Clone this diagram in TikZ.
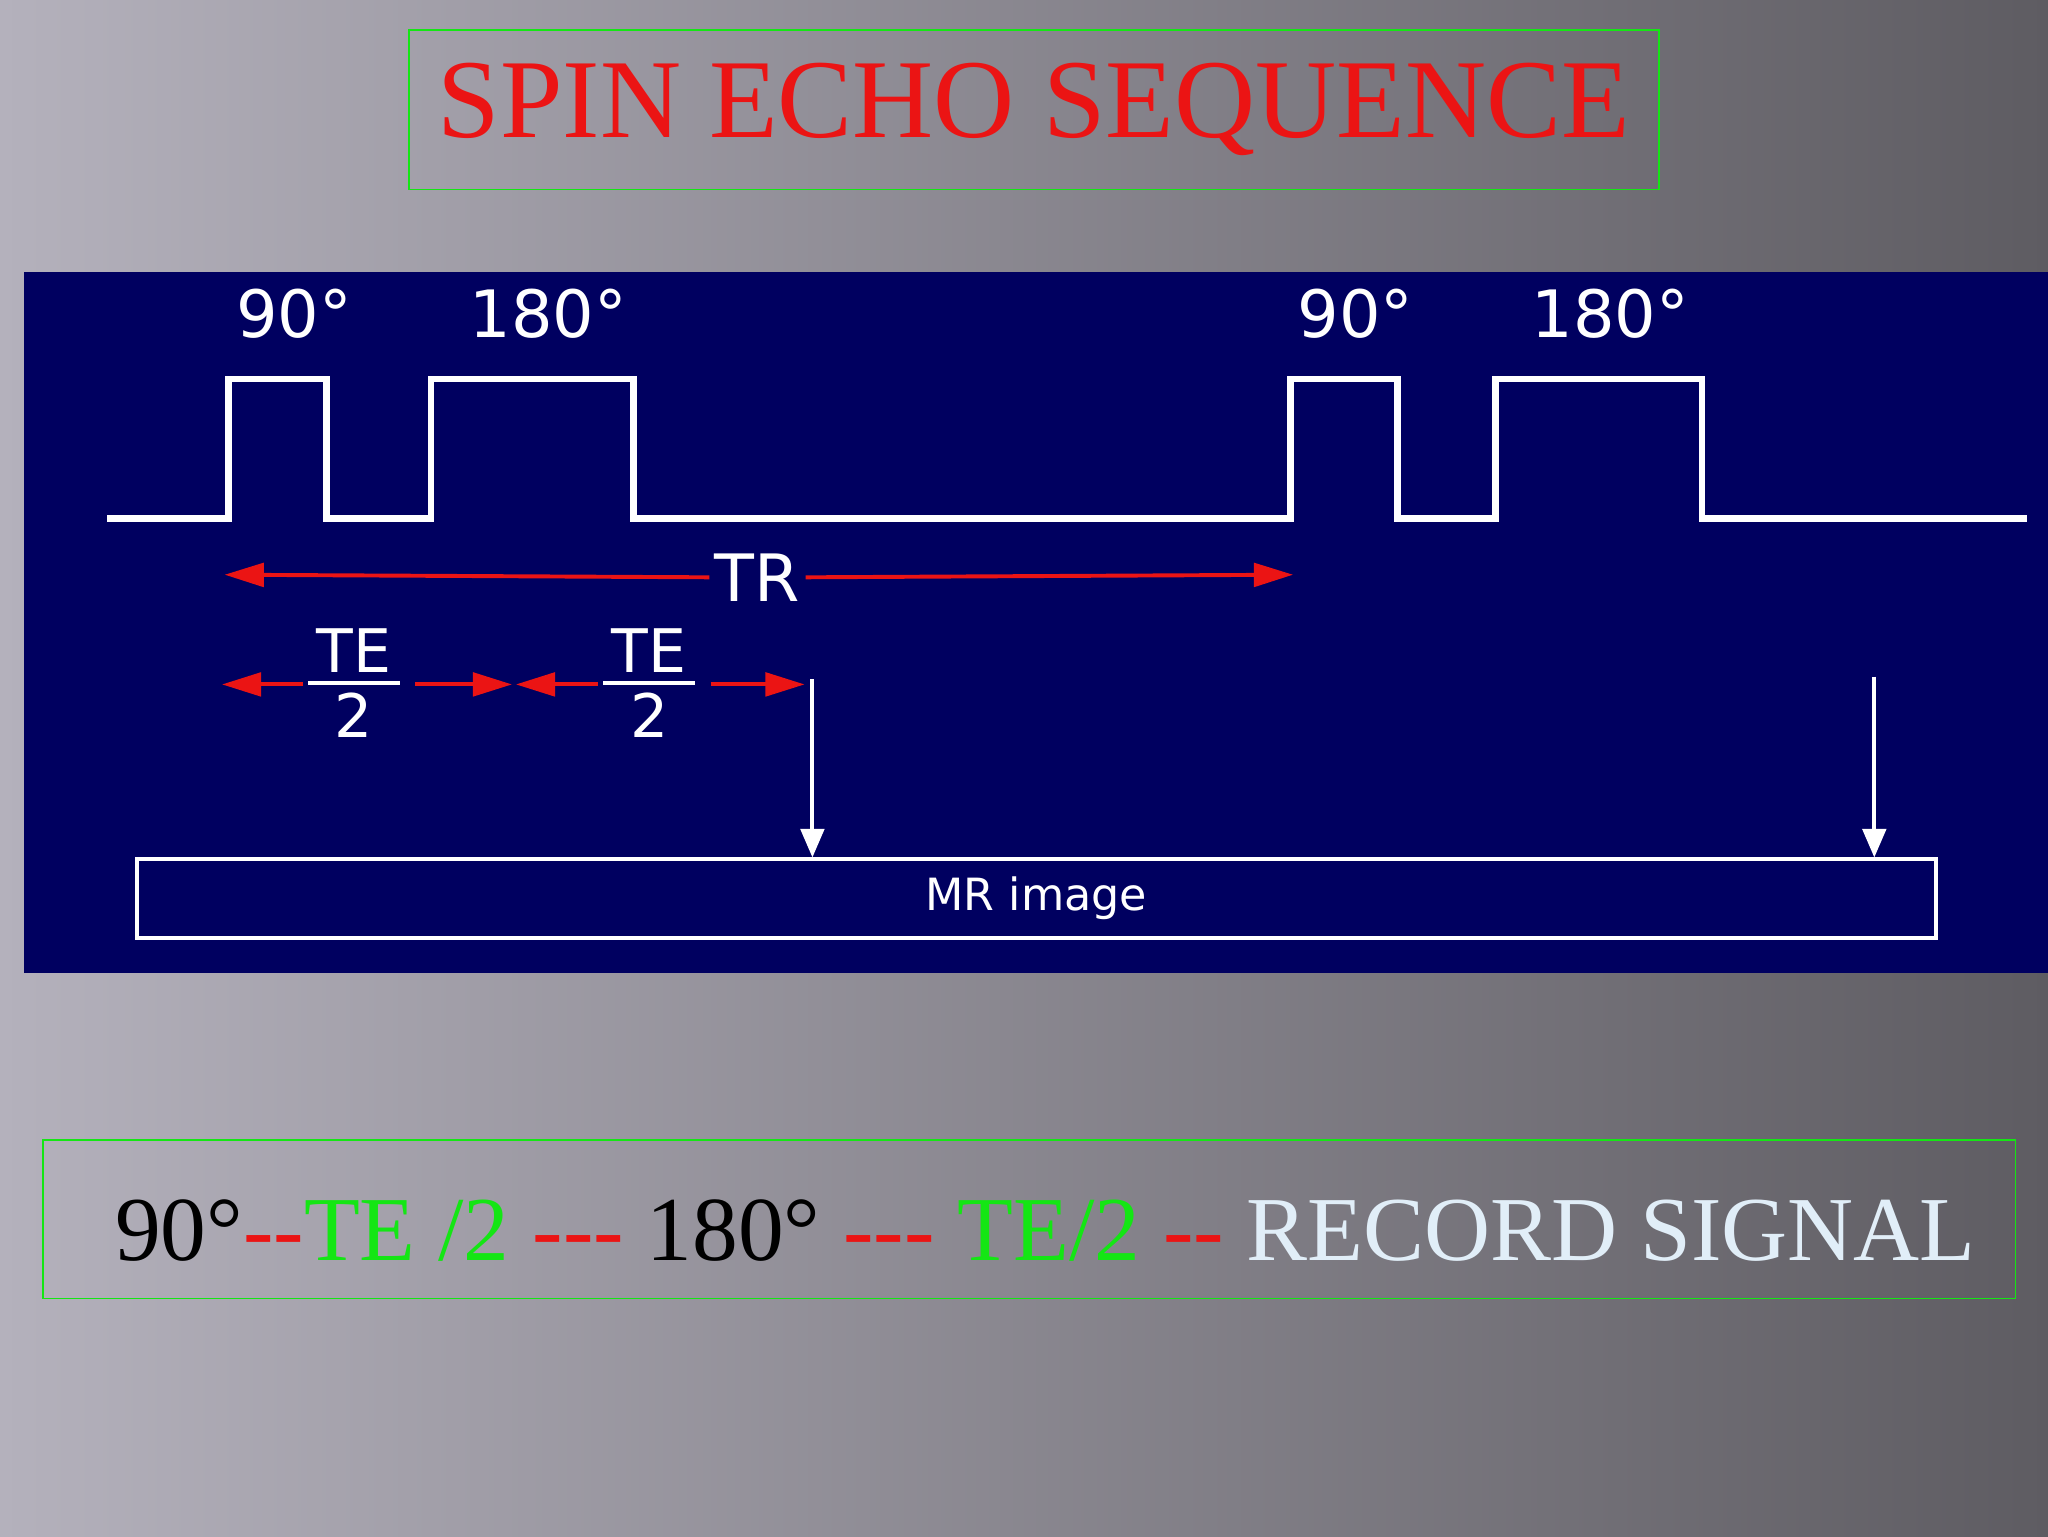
\documentclass[tikz,border=0pt]{standalone}
\usepackage{fontspec}
\setmainfont[Ligatures=NoCommon]{Liberation Serif}
\newfontfamily\dv{DejaVu Sans}
\usetikzlibrary{arrows.meta}
\definecolor{navy}{RGB}{0,0,96}
\definecolor{rd}{RGB}{235,20,20}
\definecolor{gr}{RGB}{20,230,20}
\definecolor{pale}{RGB}{225,238,248}
\tikzset{
  pulse/.style={white,line width=5pt},
  redarr/.style={rd,line width=3pt,-{Triangle[length=30pt,width=18pt]}},
  whitearr/.style={white,line width=3pt,-{Triangle[length=22pt,width=18pt]}},
  lab/.style={text=white,font=\dv\fontsize{50}{50}\selectfont},
  frac/.style={text=white,font=\dv\fontsize{46}{46}\selectfont,inner sep=0pt},
  gbox/.style={draw=gr,line width=1.2pt}
}
\newcommand{\hy}{{-}}
\begin{document}
\begin{tikzpicture}[x=1pt,y=-1pt]
\useasboundingbox (0,0) rectangle (1568,1176);
\shade[left color={rgb,255:red,180;green,177;blue,188}, right color={rgb,255:red,94;green,92;blue,98}] (0,0) rectangle (1568,1176);
\fill[navy] (18,208) rectangle (1568,745);
% title
\node[gbox,minimum width=957pt,minimum height=122pt,text=rd,font=\fontsize{86}{86}\selectfont] (title) at (791.5,84) {SPIN ECHO SEQUENCE};
% pulses
\draw[pulse,line join=miter] (82,397) -- (175,397) -- (175,290) -- (250,290) -- (250,397) -- (330,397) -- (330,290) -- (485,290) -- (485,397)
  -- (988,397) -- (988,290) -- (1070,290) -- (1070,397) -- (1145,397) -- (1145,290) -- (1303,290) -- (1303,397) -- (1552,397);
\node[lab] (p1) at (225,240) {90°};
\node[lab] (p2) at (420,240) {180°};
\node[lab] (p3) at (1038,240) {90°};
\node[lab] (p4) at (1233,240) {180°};
% TR
\node[lab,inner sep=4pt] (tr) at (580,442) {TR};
\coordinate (trl) at (172,440);
\coordinate (trr) at (990,440);
\draw[redarr] (tr.west) -- (trl);
\draw[redarr] (tr.east) -- (trr);
% TE/2
\node[frac,anchor=south] (te1n) at (271,515) {TE};
\node[frac,anchor=north] (te1d) at (271,530) {2};
\draw[white,line width=3pt] (236,523) -- (306,523);
\node[frac,anchor=south] (te2n) at (497,515) {TE};
\node[frac,anchor=north] (te2d) at (497,530) {2};
\draw[white,line width=3pt] (462,523) -- (532,523);
\coordinate (a1) at (170,524); \coordinate (a2) at (392,524);
\coordinate (a3) at (395,524); \coordinate (a4) at (616,524);
\coordinate (m1) at (232,524); \coordinate (m2) at (318,524);
\coordinate (m3) at (458,524); \coordinate (m4) at (544,524);
\draw[redarr] (m1) -- (a1);
\draw[redarr] (m2) -- (a2);
\draw[redarr] (m3) -- (a3);
\draw[redarr] (m4) -- (a4);
% MR image box
\node[draw=white,line width=3pt,minimum width=1377pt,minimum height=60pt,text=white,font=\dv\fontsize{34}{34}\selectfont] (mr) at (793.5,688) {MR image};
\coordinate (d1) at (622,520); \coordinate (d2) at (1435,518);
\draw[whitearr] (d1) -- (d1 |- mr.north);
\draw[whitearr] (d2) -- (d2 |- mr.north);
% bottom
\node[gbox,minimum width=1510pt,minimum height=121pt] (bot) at (788,933.5) {};
\node[anchor=west,font=\fontsize{70}{70}\selectfont,inner sep=0pt] (seq) at (88,942) {90°\textcolor{rd}{\hy\hy}\textcolor{gr}{TE /2} \textcolor{rd}{\hy\hy\hy} 180° \textcolor{rd}{\hy\hy\hy} \textcolor{gr}{TE/2} \textcolor{rd}{\hy\hy} \textcolor{pale}{RECORD SIGNAL}};
\end{tikzpicture}
\end{document}
